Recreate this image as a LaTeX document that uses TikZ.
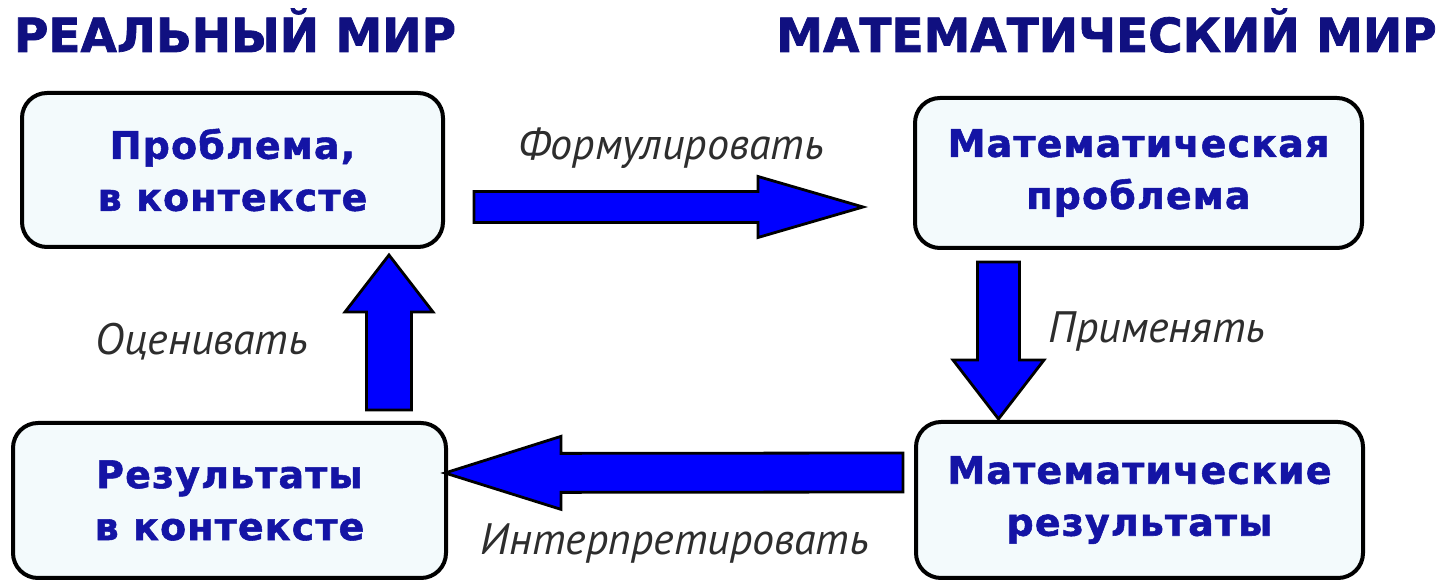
\documentclass[tikz,border=0pt]{standalone}
\usepackage{fontspec}
\setmainfont{DejaVu Sans}
\newfontfamily\worldfont[FakeBold=1.6]{DejaVu Sans Bold}
\newfontfamily\boxfont[LetterSpace=3, FakeBold=1.4]{DejaVu Sans Bold}
\newfontfamily\labelfont{PT Sans}
\usetikzlibrary{calc}
\definecolor{headblue}{RGB}{16,16,128}
\definecolor{textblue}{RGB}{20,20,165}
\definecolor{boxfill}{RGB}{243,250,252}
\definecolor{labelgray}{RGB}{45,45,45}
\tikzset{world/.style = {font=\worldfont\fontsize{47}{56}\selectfont, text=headblue,
                         anchor=base, inner sep=0}}
\tikzset{stage/.style = {draw, line width=4pt, rounded corners=25pt, fill=boxfill,
                         align=center, text=textblue, inner sep=0,
                         font=\boxfont\fontsize{38}{52}\selectfont}}
\tikzset{verb/.style = {font=\labelfont\itshape\fontsize{44}{50}\selectfont,
                        text=labelgray, anchor=base, inner sep=0}}
\tikzset{fat/.style = {draw, fill=blue, line width=2.8pt, line join=miter}}
% block arrow: start, tip, shaft half width, head half width, head length
\newcommand{\fatarrow}[5]{%
  \coordinate (neck) at ($(#2)!#5!(#1)$);
  \draw [fat] ($(#1)!#3!90:(#2)$) -- ($(neck)!#3!-90:(#1)$) -- ($(neck)!#4!-90:(#1)$)
    -- (#2) -- ($(neck)!#4!90:(#1)$) -- ($(neck)!#3!90:(#1)$)
    -- ($(#1)!#3!-90:(#2)$) -- cycle;}

\begin{document}
\begin{tikzpicture}[x=1pt, y=1pt]
    \useasboundingbox [fill=white] (0, 0) rectangle (1440, 583);

    \node [world] (real) at (235, 531) {РЕАЛЬНЫЙ МИР};
    \node [world] (math) at (1106.5, 531) {МАТЕМАТИЧЕСКИЙ МИР};

    \node [stage, minimum width=421pt, minimum height=154pt] (prob) at (232.5, 413)
        {Проблема,\\в контексте};
    \node [stage, minimum width=447pt, minimum height=150pt] (mprob) at (1138.5, 410)
        {Математическая\\проблема};
    \node [stage, minimum width=447pt, minimum height=156pt] (mres) at (1139.5, 83)
        {Математические\\результаты};
    \node [stage, minimum width=433pt, minimum height=155pt] (res) at (229.5, 82.5)
        {Результаты\\в контексте};

    \coordinate (f0) at ($(prob.east) + (29, -37)$);
    \coordinate (f1) at ($(mprob.west) + (-50, -34)$);
    \coordinate (a0) at ($(mprob.south) + (-140, -12)$);
    \coordinate (a1) at ($(mres.north) + (-141, 1)$);
    \coordinate (i0) at ($(mres.west) + (-11, 27.5)$);
    \coordinate (i1) at ($(res.east) + (-3, 27.5)$);
    \coordinate (e0) at ($(res.north) + (159.5, 11)$);
    \coordinate (e1) at ($(prob.south) + (156.5, -6)$);

    \fatarrow{f0}{f1}{15.5pt}{30.5pt}{105pt}
    \fatarrow{a0}{a1}{21pt}{45.5pt}{59pt}
    \fatarrow{i0}{i1}{19.5pt}{36.5pt}{116pt}
    \fatarrow{e0}{e1}{22.5pt}{44pt}{57pt}

    \node [verb] (form) at (671, 423) {Формулировать};
    \node [verb] (appl) at (1157, 240) {Применять};
    \node [verb] (intr) at (675, 28) {Интерпретировать};
    \node [verb] (eval) at (202, 228) {Оценивать};
  \end{tikzpicture}
\end{document}
